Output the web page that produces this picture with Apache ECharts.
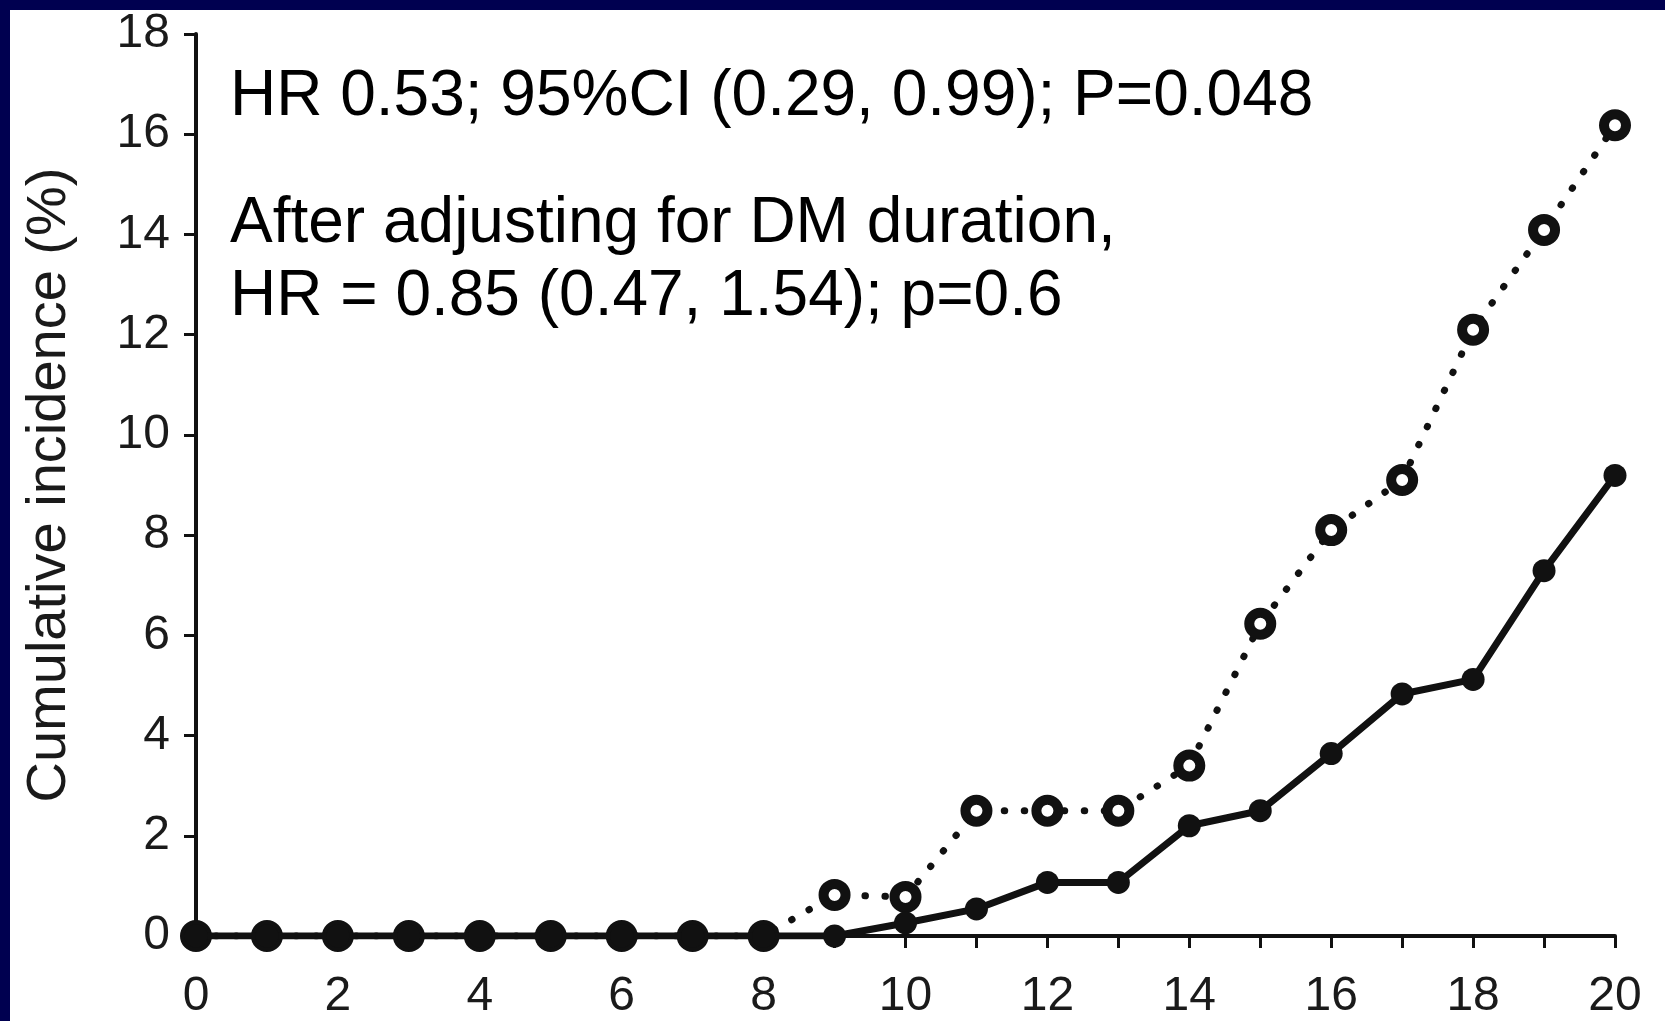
<!DOCTYPE html>
<html>
<head>
<meta charset="utf-8">
<script src="https://cdn.jsdelivr.net/npm/echarts@6/dist/echarts.min.js"></script>
<style>
  html, body { margin: 0; padding: 0; background: #fff; }
  #main { width: 1665px; height: 1021px; }
</style>
</head>
<body>
<div id="main"></div>
<script>
// years of follow-up
var years = [0, 1, 2, 3, 4, 5, 6, 7, 8, 9, 10, 11, 12, 13, 14, 15, 16, 17, 18, 19, 20];
// solid line, filled circles
var solidVals = [0, 0, 0, 0, 0, 0, 0, 0, 0, 0, 0.26, 0.54, 1.07, 1.07, 2.2, 2.5, 3.64, 4.83, 5.12, 7.29, 9.19];
// dotted line, open circles
var dottedVals = [0, 0, 0, 0, 0, 0, 0, 0, 0, 0.82, 0.78, 2.5, 2.5, 2.5, 3.4, 6.23, 8.1, 9.1, 12.1, 14.09, 16.18];

var notes = [
  'HR 0.53; 95%CI (0.29, 0.99); P=0.048',
  'After adjusting for DM duration,',
  'HR = 0.85 (0.47, 1.54); p=0.6'
];

var font = 'Liberation Sans, Arial, sans-serif';
var ink = '#111';

function pairs(vals) {
  return years.map(function (x, i) { return [x, vals[i]]; });
}

var chart = echarts.init(document.getElementById('main'));

var option = {
  animation: false,
  backgroundColor: '#fff',
  grid: { left: 196, right: 50, top: 34, bottom: 85 },
  xAxis: {
    type: 'value',
    min: 0,
    max: 20,
    interval: 2,
    axisLine: { lineStyle: { color: ink, width: 4 } },
    axisTick: { show: true, length: 12, lineStyle: { color: ink, width: 3 } },
    minorTick: { show: true, splitNumber: 2, length: 12, lineStyle: { color: ink, width: 3 } },
    axisLabel: { color: '#1a1a1a', fontSize: 48, fontFamily: font, margin: 37 },
    splitLine: { show: false }
  },
  yAxis: {
    type: 'value',
    min: 0,
    max: 18,
    interval: 2,
    name: 'Cumulative incidence (%)',
    nameLocation: 'middle',
    nameRotate: 90,
    nameGap: 118,
    nameTextStyle: { color: '#1a1a1a', fontSize: 56, fontFamily: font },
    axisLine: { lineStyle: { color: ink, width: 4 } },
    axisTick: { show: true, length: 12, lineStyle: { color: ink, width: 3 } },
    axisLabel: { color: '#1a1a1a', fontSize: 48, fontFamily: font, margin: 26 },
    splitLine: { show: false }
  },
  series: [
    {
      name: 'dotted',
      type: 'line',
      data: pairs(dottedVals),
      symbol: 'circle',
      symbolSize: 22,
      itemStyle: { color: '#fff', borderColor: ink, borderWidth: 10 },
      lineStyle: { color: ink, width: 7, type: [0.5, 19.5], cap: 'round' },
      z: 2
    },
    {
      name: 'solid',
      type: 'line',
      data: pairs(solidVals),
      symbol: 'circle',
      symbolSize: 23,
      itemStyle: { color: ink },
      lineStyle: { color: ink, width: 7 },
      z: 3
    }
  ],
  graphic: [
    { type: 'rect', shape: { x: 0, y: 0, width: 1665, height: 10 }, style: { fill: '#000050' } },
    { type: 'rect', shape: { x: 0, y: 0, width: 10, height: 1021 }, style: { fill: '#000050' } },
    { type: 'text', left: 230, top: 97 - 32, style: { text: notes[0], fill: '#000', font: '64px ' + font } },
    { type: 'text', left: 230, top: 224 - 32, style: { text: notes[1], fill: '#000', font: '64px ' + font } },
    { type: 'text', left: 230, top: 297 - 32, style: { text: notes[2], fill: '#000', font: '64px ' + font } }
  ]
};

chart.setOption(option);
</script>
</body>
</html>
